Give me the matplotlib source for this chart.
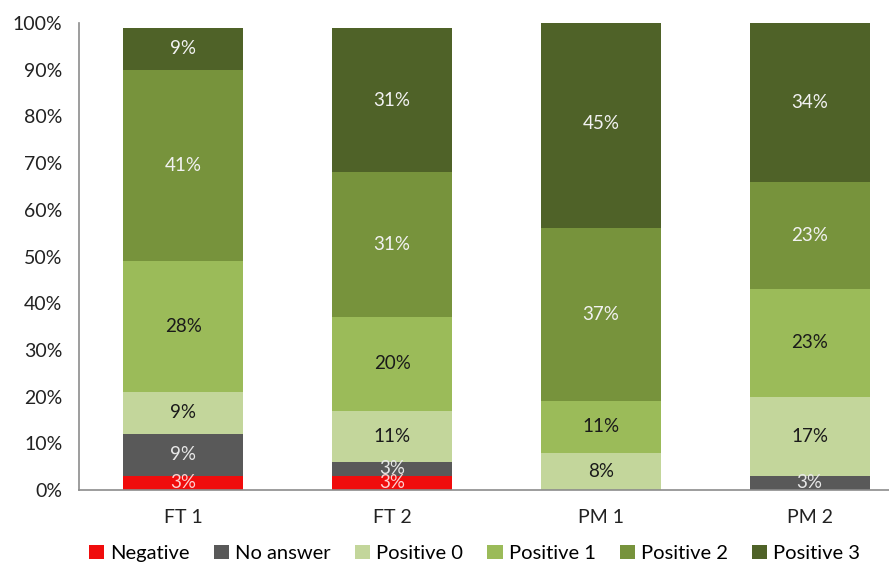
import matplotlib
matplotlib.use("Agg")
import matplotlib.pyplot as plt
import numpy as np

plt.rcParams['font.family'] = ['Lato', 'DejaVu Sans']

groups = ["FT 1", "FT 2", "PM 1", "PM 2"]
series = ["Negative", "No answer", "Positive 0", "Positive 1", "Positive 2", "Positive 3"]
negative = [3, 3, 0, 0]
no_answer = [9, 3, 0, 3]
positive0 = [9, 11, 8, 17]
positive1 = [28, 20, 11, 23]
positive2 = [41, 31, 37, 23]
positive3 = [9, 31, 45, 34]
yticks = [0, 10, 20, 30, 40, 50, 60, 70, 80, 90, 100]

values = [negative, no_answer, positive0, positive1, positive2, positive3]
colors = ["#f00c0c", "#595959", "#c3d69b", "#9bbb59", "#77933c", "#4f6228"]
text_colors = ["#ffd0d0", "#e8e8e8", "#1a1a1a", "#1a1a1a", "#f2f2f2", "#f2f2f2"]

fig = plt.figure(figsize=(8.89, 5.70), dpi=100)
ax = fig.add_axes([0.0889, 0.1404, 0.9111, 0.8192])

x = np.arange(len(groups))
bottom = np.zeros(len(groups))
for name, vals, col, tcol in zip(series, values, colors, text_colors):
    vals = np.array(vals, dtype=float)
    ax.bar(x, vals, bottom=bottom, width=0.575, color=col, label=name)
    for xi, b, v in zip(x, bottom, vals):
        if v > 0:
            ax.text(xi, b + v / 2, f"{int(v)}%", ha="center", va="center",
                    fontsize=13.5, color=tcol)
    bottom += vals

ax.set_xlim(-0.5, 3.38)
ax.set_ylim(0, 100)
ax.set_yticks(yticks)
ax.set_yticklabels([f"{t}%" for t in yticks], fontsize=14, color="#222222")
ax.set_xticks(x)
ax.set_xticklabels(groups, fontsize=14, color="#222222")
ax.tick_params(axis="both", length=0)
ax.tick_params(axis="y", pad=12)
ax.tick_params(axis="x", pad=14)
for s in ["top", "right"]:
    ax.spines[s].set_visible(False)
for s in ["left", "bottom"]:
    ax.spines[s].set_color("#8c8c8c")
    ax.spines[s].set_linewidth(1.2)

fig.legend(loc="lower center", bbox_to_anchor=(0.534, -0.018), ncol=6, frameon=False,
           fontsize=14.5, handlelength=0.75, handleheight=0.75, handletextpad=0.3,
           columnspacing=1.2)

fig.savefig("out.png", dpi=100)
